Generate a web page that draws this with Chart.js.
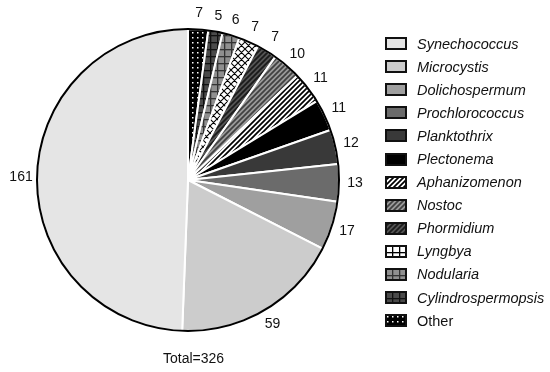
<!DOCTYPE html>
<html>
<head>
<meta charset="utf-8">
<script src="https://cdn.jsdelivr.net/npm/chart.js@4.4.1/dist/chart.umd.min.js"></script>
<style>
  body { margin: 0; background: #fff; }
  #wrap { position: relative; width: 550px; height: 372px; font-family: "Liberation Sans", Arial, sans-serif; }
  #legend { position: absolute; left: 385px; top: 32px; }
  .row { height: 23.1px; display: flex; align-items: center; font-size: 14.5px; font-style: italic; color: #111; }
  .row canvas { margin-right: 10px; }
  .row.plain { font-style: normal; }
  #total { position: absolute; left: 163px; top: 350px; font-size: 14px; color: #111; }
</style>
</head>
<body>
<div id="wrap">
  <canvas id="pie"></canvas>
  <div id="legend"></div>
  <div id="total"></div>
</div>
<script>
// legend order (counter-clockwise from the top in the picture)
var species = ['Synechococcus', 'Microcystis', 'Dolichospermum', 'Prochlorococcus', 'Planktothrix',
  'Plectonema', 'Aphanizomenon', 'Nostoc', 'Phormidium', 'Lyngbya', 'Nodularia',
  'Cylindrospermopsis', 'Other'];
var counts = [161, 59, 17, 13, 12, 11, 11, 10, 7, 7, 6, 5, 7];

// fill for each species: [kind, background, foreground]
var fills = [
  ['solid', '#e5e5e5'],
  ['solid', '#cccccc'],
  ['solid', '#9f9f9f'],
  ['solid', '#6b6b6b'],
  ['solid', '#393939'],
  ['solid', '#000000'],
  ['diag', '#ffffff', '#000000'],
  ['diag', '#9a9a9a', '#404040'],
  ['diag', '#555555', '#1a1a1a'],
  ['cross', '#ffffff', '#000000'],
  ['grid', '#8f8f8f', '#333333'],
  ['grid', '#4a4a4a', '#111111'],
  ['dots', '#000000', '#ffffff']
];

function makePattern(f, legend) {
  var kind = f[0];
  if (kind === 'solid') return f[1];
  if (legend && kind === 'cross') kind = 'grid';
  var c = document.createElement('canvas');
  var x = c.getContext('2d');
  var s = kind === 'dots' ? 5 : (kind === 'diag' ? 5 : 7);
  c.width = s; c.height = s;
  x.fillStyle = f[1];
  x.fillRect(0, 0, s, s);
  x.fillStyle = f[2];
  x.strokeStyle = f[2];
  if (kind === 'dots') {
    x.fillRect(2, 2, 1.5, 1.5);
  } else if (kind === 'grid') {
    x.fillRect(0, 0, s, 1.3);
    x.fillRect(0, 0, 1.3, s);
  } else {
    x.lineWidth = kind === 'diag' ? 1.7 : 1.1;
    x.beginPath();
    x.moveTo(-1, s + 1); x.lineTo(s + 1, -1);
    x.moveTo(-1, 1); x.lineTo(1, -1);
    x.moveTo(s - 1, s + 1); x.lineTo(s + 1, s - 1);
    if (kind === 'cross') {
      x.moveTo(-1, -1); x.lineTo(s + 1, s + 1);
      x.moveTo(s - 1, -1); x.lineTo(s + 1, 1);
      x.moveTo(-1, s - 1); x.lineTo(1, s + 1);
    }
    x.stroke();
  }
  return x.createPattern(c, 'repeat');
}

// chart.js goes clockwise, the picture goes counter-clockwise, so reverse
var pieLabels = species.slice().reverse();
var pieData = counts.slice().reverse();
var pieFills = fills.map(function (f) { return makePattern(f, false); }).reverse();

var sliceLabels = {
  id: 'sliceLabels',
  afterDatasetsDraw: function (chart) {
    var ctx = chart.ctx;
    var meta = chart.getDatasetMeta(0);
    ctx.save();
    // black outer ring
    var a0 = meta.data[0];
    ctx.beginPath();
    ctx.arc(a0.x, a0.y, a0.outerRadius, 0, Math.PI * 2);
    ctx.lineWidth = 2;
    ctx.strokeStyle = '#000';
    ctx.stroke();
    ctx.font = '14px "Liberation Sans", Arial, sans-serif';
    ctx.fillStyle = '#111';
    ctx.textAlign = 'center';
    ctx.textBaseline = 'middle';
    meta.data.forEach(function (arc, i) {
      var mid = (arc.startAngle + arc.endAngle) / 2;
      var r = arc.outerRadius + 16;
      ctx.fillText(String(pieData[i]), arc.x + Math.cos(mid) * r, arc.y + Math.sin(mid) * r);
    });
    ctx.restore();
  }
};

var cv = document.getElementById('pie');
cv.style.width = '550px';
cv.style.height = '372px';

new Chart(cv, {
  type: 'pie',
  data: {
    labels: pieLabels,
    datasets: [{
      data: pieData,
      backgroundColor: pieFills,
      borderColor: '#ffffff',
      borderWidth: 2
    }]
  },
  options: {
    responsive: false,
    animation: false,
    events: [],
    layout: { padding: { left: 36, right: 210, top: 28, bottom: 40 } },
    plugins: { legend: { display: false }, tooltip: { enabled: false } }
  },
  plugins: [sliceLabels]
});

// legend
var legend = document.getElementById('legend');
species.forEach(function (name, i) {
  var row = document.createElement('div');
  row.className = 'row' + (name === 'Other' ? ' plain' : '');
  var sw = document.createElement('canvas');
  sw.width = 22; sw.height = 13;
  var sx = sw.getContext('2d');
  sx.fillStyle = makePattern(fills[i], true);
  sx.fillRect(0, 0, 22, 13);
  sx.strokeStyle = '#111';
  sx.lineWidth = 2;
  sx.strokeRect(1, 1, 20, 11);
  row.appendChild(sw);
  row.appendChild(document.createTextNode(name));
  legend.appendChild(row);
});

var total = counts.reduce(function (a, b) { return a + b; }, 0);
document.getElementById('total').textContent = 'Total=' + total;
</script>
</body>
</html>
